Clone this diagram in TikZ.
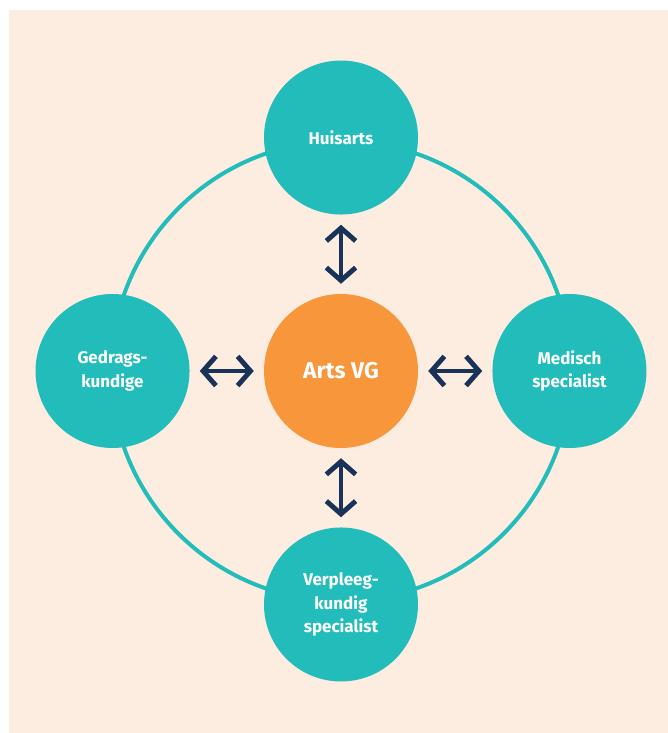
\documentclass[tikz,border=0pt]{standalone}
\usepackage{fontspec}
\setmainfont{Fira Sans}
\usetikzlibrary{arrows.meta, positioning}
\usepackage{xcolor}
\definecolor{teal}{HTML}{22BCBB}
\definecolor{orange}{HTML}{F7963B}
\definecolor{navy}{HTML}{193358}
\definecolor{beige}{HTML}{FDEDE0}

\begin{document}
\begin{tikzpicture}[role/.style={circle, fill=teal, minimum size=4.62cm, inner sep=0pt, align=center, text=white, font=\fontsize{14.5}{20}\selectfont\bfseries}, link/.style={{Straight Barb[length=11pt, width=25pt]}-{Straight Barb[length=11pt, width=25pt]}, draw=navy, line width=4.2pt, shorten <=0.3cm, shorten >=0.3cm}]
% page and background
\useasboundingbox (-10.23,-10.86) rectangle (9.81,11.13);
\fill[beige] (-9.96,-10.86) rectangle (9.81,10.83);
\coordinate (mid) at (0,0);
\draw[teal, line width=3.4pt] (mid) circle (6.9cm);
\node[role, fill=orange, font=\fontsize{19.5}{22}\selectfont\bfseries] (arts) at (mid) {Arts VG};
\node[role, above=2.37cm of arts] (huis) {Huisarts};
\node[role, below=2.37cm of arts] (vs) {Verpleeg-\\kundig\\specialist};
\node[role, left=2.22cm of arts] (gedrag) {Gedrags-\\kundige};
\node[role, right=2.22cm of arts] (ms) {Medisch\\specialist};
\draw[link] (huis) -- (arts);
\draw[link] (arts) -- (vs);
\draw[link] (gedrag) -- (arts);
\draw[link] (arts) -- (ms);
\end{tikzpicture}
\end{document}
